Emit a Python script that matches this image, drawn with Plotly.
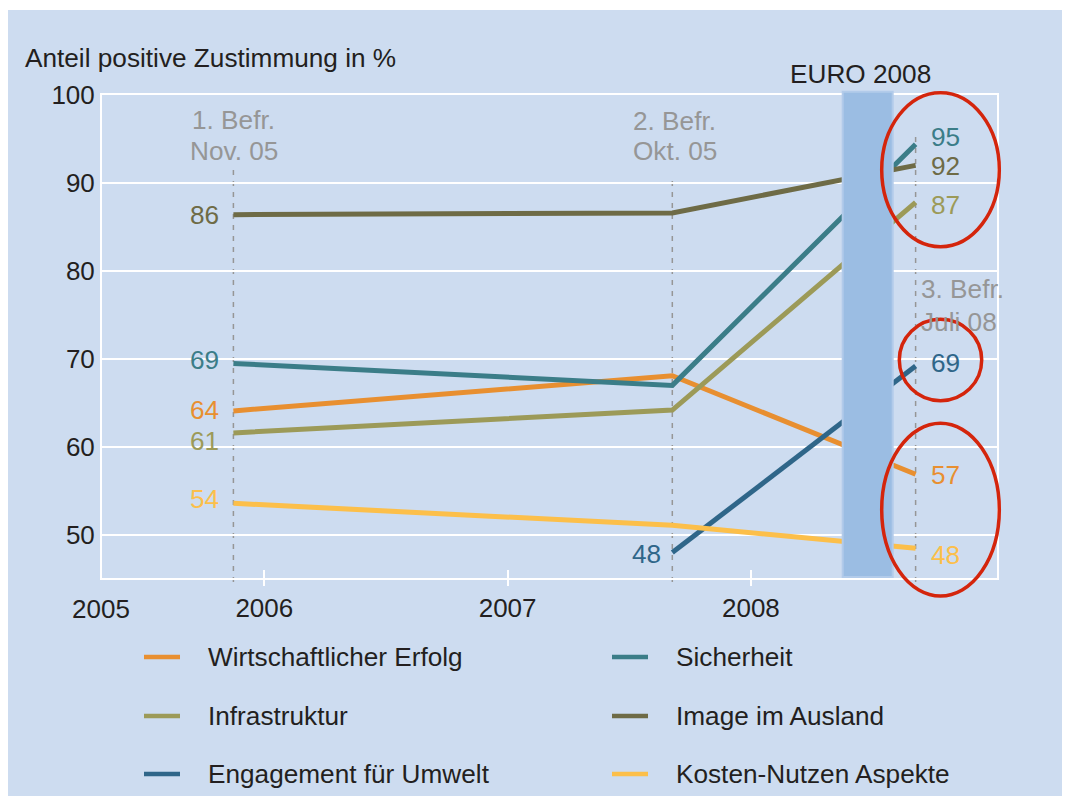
import plotly.graph_objects as go

# ---------------- data ----------------
survey_x = [2005.873, 2007.677, 2008.677]          # 1. Befr., 2. Befr., 3. Befr.
series_names = ["Wirtschaftlicher Erfolg", "Sicherheit", "Infrastruktur",
                "Image im Ausland", "Engagement für Umwelt", "Kosten-Nutzen Aspekte"]
wirtschaft = [64.1, 68.1, 56.9]
sicherheit = [69.5, 67.0, 94.4]
infrastruktur = [61.6, 64.2, 87.8]
image_ausland = [86.4, 86.6, 92.0]
engagement = [None, 48.0, 69.2]
kosten = [53.6, 51.1, 48.5]

# value labels shown next to the points
labels_first = ["64", "69", "61", "86", "48", "54"]   # first available point
labels_last = ["57", "95", "87", "92", "69", "48"]

x_tickvals = [2006, 2007, 2008]
x_ticktext = ["2006", "2007", "2008"]
x_first_label = "2005"
y_tickvals = [50, 60, 70, 80, 90, 100]

survey_line1 = ["1. Befr.", "2. Befr.", "3. Befr."]
survey_line2 = ["Nov. 05", "Okt. 05", "Juli 08"]
euro_label = "EURO 2008"
y_title = "Anteil positive Zustimmung in %"

# ---------------- style ----------------
colors = ["#e88f30", "#3b7d88", "#9c9a58", "#6e6b46", "#2f6689", "#fcbf4a"]
BG = "#cddcf0"
TXT = "#231f20"
GRAY = "#969696"
RED = "#d4250c"
FONT = "Liberation Sans, Arial, Helvetica, sans-serif"
FS = 26.2
FS_TICK = 26

OFF = 8                                  # page body margin
W, H = 1070, 796
L, R, T, B = 102, 997, 95, 578          # plot area in page pixels


def xd(px):  # page pixel -> data x
    return 2006 + (px - 264.3) / 243.3


def xp(px):  # page pixel -> paper x
    return (px - L) / (R - L)


def yp(py):  # page pixel -> paper y
    return (B - py) / (B - T)


x_range = [xd(L), xd(R)]
y_range = [100 - (B - T) / 8.8, 100]

all_series = [wirtschaft, sicherheit, infrastruktur, image_ausland, engagement, kosten]

fig = go.Figure()
for name, vals, col in zip(series_names, all_series, colors):
    fig.add_trace(go.Scatter(x=survey_x, y=vals, mode="lines", name=name,
                             line=dict(color=col, width=5), showlegend=False,
                             connectgaps=False, hoverinfo="skip"))
# dummy trace for overlay axis (inside half of tick marks)
fig.add_trace(go.Scatter(x=[], y=[], xaxis="x2", showlegend=False))

shapes = []
annotations = []

# panel background
shapes.append(dict(type="rect", xref="paper", yref="paper",
                   x0=xp(8), x1=xp(1090), y0=yp(10), y1=yp(820),
                   fillcolor=BG, line=dict(width=0), layer="below"))

# survey dashed lines
dash_tops = [170, 175, 137]
for sx, top in zip(survey_x, dash_tops):
    shapes.append(dict(type="line", xref="x", yref="paper", x0=sx, x1=sx,
                       y0=yp(582), y1=yp(top),
                       line=dict(color=GRAY, width=1.5, dash="5px,6px"), layer="below"))

# EURO 2008 band
shapes.append(dict(type="rect", xref="x", yref="paper",
                   x0=xd(842.7), x1=xd(892.7), y0=yp(577), y1=yp(91.7),
                   fillcolor="#9bbde3", line=dict(color="#b2cbea", width=2),
                   layer="above"))

# red ellipses
for (x0, x1, y0, y1) in [(881.7, 999.3, 92.7, 246.7),
                         (899.3, 981.7, 319.3, 400.7),
                         (881.7, 999.3, 423.3, 596.0)]:
    shapes.append(dict(type="circle", xref="paper", yref="paper",
                       x0=xp(x0), x1=xp(x1), y0=yp(y1), y1=yp(y0),
                       line=dict(color=RED, width=3.5), layer="above"))

# value labels
first_shift = [1, 3, -8, 0, -1, 4]
last_shift = [-1, 7, -3, -1, 3, -7]
for i, vals in enumerate(all_series):
    idx = next(k for k, v in enumerate(vals) if v is not None)
    annotations.append(dict(x=survey_x[idx], y=vals[idx], xref="x", yref="y",
                            text=labels_first[i], showarrow=False,
                            xanchor="right", yanchor="middle",
                            xshift=-12 if idx == 0 else -9, yshift=first_shift[i],
                            font=dict(family=FONT, size=FS, color=colors[i])))
    annotations.append(dict(x=survey_x[-1], y=vals[-1], xref="x", yref="y",
                            text=labels_last[i], showarrow=False,
                            xanchor="left", yanchor="middle",
                            xshift=13, yshift=last_shift[i],
                            font=dict(family=FONT, size=FS, color=colors[i])))

# survey annotations
survey_pos = [(233.8, "center", 119.5, 151), (674.5, "center", 120.5, 151),
              (919, "left", 289, 322)]
for (px, anc, y1, y2), t1, t2 in zip(survey_pos, survey_line1, survey_line2):
    for py, txt in [(y1, t1), (y2, t2)]:
        annotations.append(dict(x=xp(px), y=yp(py), xref="paper", yref="paper",
                                text=txt, showarrow=False, xanchor=anc, yanchor="middle",
                                font=dict(family=FONT, size=FS, color=GRAY)))

# EURO 2008
annotations.append(dict(x=xp(860.3), y=yp(74), xref="paper", yref="paper",
                        text=euro_label, showarrow=False, xanchor="center", yanchor="middle",
                        font=dict(family=FONT, size=FS, color=TXT)))
# y title
annotations.append(dict(x=xp(23), y=yp(58), xref="paper", yref="paper",
                        text=y_title, showarrow=False, xanchor="left", yanchor="middle",
                        font=dict(family=FONT, size=FS, color=TXT)))
# first x label at left edge
annotations.append(dict(x=xp(101.4), y=yp(609), xref="paper", yref="paper",
                        text=x_first_label, showarrow=False, xanchor="center", yanchor="middle",
                        font=dict(family=FONT, size=FS_TICK, color=TXT)))

# manual legend
leg_rows = [657, 716, 774]
leg_cols = [(144, 180, 206), (612, 648, 674)]
order = [(0, 0, 0), (1, 1, 0), (2, 0, 1), (3, 1, 1), (4, 0, 2), (5, 1, 2)]
for si, ci, ri in order:
    sx0, sx1, tx = leg_cols[ci]
    py = leg_rows[ri]
    shapes.append(dict(type="line", xref="paper", yref="paper",
                       x0=xp(sx0), x1=xp(sx1), y0=yp(py), y1=yp(py),
                       line=dict(color=colors[si], width=4.5)))
    annotations.append(dict(x=xp(tx), y=yp(py), xref="paper", yref="paper",
                            text=series_names[si], showarrow=False,
                            xanchor="left", yanchor="middle",
                            font=dict(family=FONT, size=FS, color=TXT)))

fig.update_layout(
    width=W, height=H, autosize=False,
    margin=dict(l=L - OFF, r=W - (R - OFF), t=T - OFF, b=H - (B - OFF), pad=0),
    paper_bgcolor="white", plot_bgcolor="rgba(0,0,0,0)",
    font=dict(family=FONT, size=FS, color=TXT),
    xaxis=dict(range=x_range, tickvals=x_tickvals, ticktext=x_ticktext,
               ticks="outside", ticklen=6, tickwidth=2, tickcolor="white",
               showgrid=False, zeroline=False, showline=True, linecolor="white",
               linewidth=2, mirror=True, ticklabelstandoff=0,
               tickfont=dict(family=FONT, size=FS_TICK, color=TXT)),
    xaxis2=dict(range=x_range, overlaying="x", anchor="y", side="bottom",
                tickvals=x_tickvals, ticks="inside", ticklen=8, tickwidth=2,
                tickcolor="white", showticklabels=False, showgrid=False,
                zeroline=False, showline=False),
    yaxis=dict(range=y_range, tickvals=y_tickvals, ticks="", showgrid=True,
               gridcolor="white", gridwidth=2, zeroline=False, showline=True,
               linecolor="white", linewidth=2, mirror=True, ticklabelstandoff=0,
               tickfont=dict(family=FONT, size=FS_TICK, color=TXT)),
    shapes=shapes, annotations=annotations,
)

fig.write_html("out.html")
